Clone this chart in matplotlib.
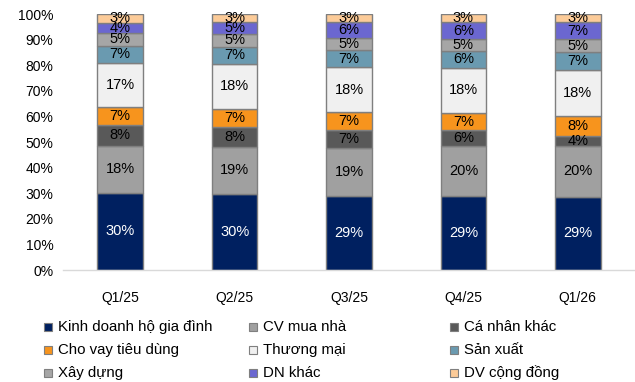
import matplotlib
matplotlib.use("Agg")
import matplotlib.pyplot as plt
from matplotlib.patches import Rectangle
import numpy as np

plt.rcParams['font.family'] = ['Liberation Sans', 'DejaVu Sans']

quarters = ["Q1/25", "Q2/25", "Q3/25", "Q4/25", "Q1/26"]

# Loan book structure by segment (% of total), bottom to top
kinh_doanh_hgd = [30.2, 29.6, 28.8, 28.8, 28.7]
cv_mua_nha = [18.4, 18.6, 18.9, 19.6, 19.6]
ca_nhan_khac = [8.1, 7.7, 7.0, 6.2, 4.2]
cho_vay_tieu_dung = [6.8, 7.0, 6.9, 6.8, 7.6]
thuong_mai = [17.4, 17.6, 17.6, 17.7, 18.0]
san_xuat = [6.6, 6.6, 6.8, 6.3, 7.0]
xay_dung = [5.2, 5.1, 4.8, 4.9, 5.0]
dn_khac = [3.9, 4.6, 6.0, 6.4, 6.8]
dv_cong_dong = [3.4, 3.2, 3.2, 3.3, 3.1]

series = [
    ("Kinh doanh hộ gia đình", kinh_doanh_hgd, "#002060", "white"),
    ("CV mua nhà", cv_mua_nha, "#A0A0A0", "black"),
    ("Cá nhân khác", ca_nhan_khac, "#595959", "black"),
    ("Cho vay tiêu dùng", cho_vay_tieu_dung, "#F7941D", "black"),
    ("Thương mại", thuong_mai, "#F0F0F0", "black"),
    ("Sản xuất", san_xuat, "#6A9AB0", "black"),
    ("Xây dựng", xay_dung, "#A6A6A6", "black"),
    ("DN khác", dn_khac, "#6B67D0", "black"),
    ("DV cộng đồng", dv_cong_dong, "#FCCB98", "black"),
]

fig = plt.figure(figsize=(6.35, 3.82), dpi=100)
ax = fig.add_axes([63 / 635, 1 - 270 / 382, 572 / 635, 256 / 382])

x = np.arange(len(quarters))
bottom = np.zeros(len(quarters))
for name, vals, color, tcolor in series:
    v = np.array(vals) / 100.0
    ax.bar(x, v, width=0.40, bottom=bottom, color=color,
           edgecolor="#7F7F7F", linewidth=1.0, zorder=2)
    for xi, b, h, raw in zip(x, bottom, v, vals):
        ax.text(xi, b + h / 2, f"{round(raw)}%", ha="center", va="center",
                fontsize=10.5, color=tcolor, zorder=3)
    bottom += v

ax.set_xlim(-0.5, len(quarters) - 0.5)
ax.set_ylim(0, 1.0)
ax.set_yticks(np.arange(0, 1.01, 0.1))
ax.set_yticklabels([f"{int(round(t * 100))}%" for t in np.arange(0, 1.01, 0.1)])
ax.set_xticks(x)
ax.set_xticklabels(quarters)
ax.tick_params(axis="both", length=0, labelsize=10, colors="black")
ax.tick_params(axis="y", pad=7)
ax.tick_params(axis="x", pad=15)
for s in ["top", "right", "left"]:
    ax.spines[s].set_visible(False)
ax.spines["bottom"].set_color("#D9D9D9")
ax.spines["bottom"].set_linewidth(1.0)

# Legend laid out in three fixed columns, row by row
col_x = [48, 253, 454]
row_y = [327, 350, 373]
for i, (name, vals, color, tcolor) in enumerate(series):
    r, c = divmod(i, 3)
    px, py = col_x[c], row_y[r]
    fig.patches.append(Rectangle(((px - 4) / 635, 1 - (py + 4) / 382), 8 / 635, 8 / 382,
                                 transform=fig.transFigure, facecolor=color,
                                 edgecolor="#7F7F7F", linewidth=0.8))
    fig.text((px + 10) / 635, 1 - py / 382, name, ha="left", va="center", fontsize=10.8)

fig.savefig("out.png", dpi=100)
